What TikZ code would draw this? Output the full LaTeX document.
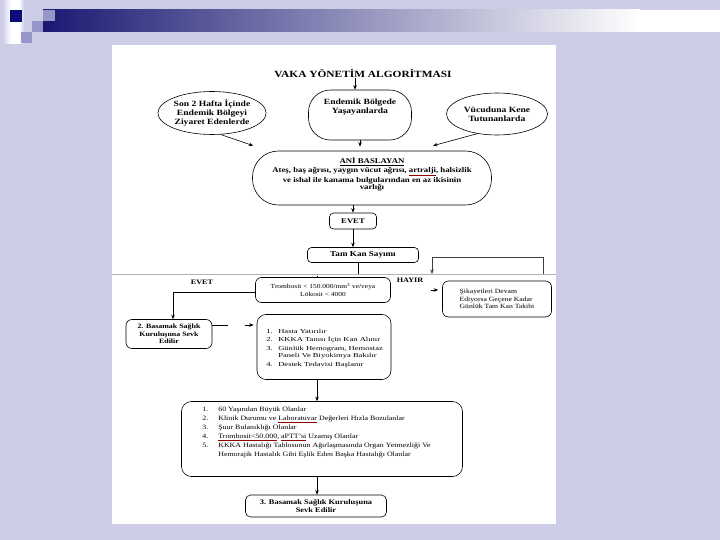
\documentclass[tikz,border=0pt]{standalone}
\usepackage{fontspec}
\setmainfont{Liberation Serif}[FakeStretch=1.2]
\newfontfamily\widefont{Liberation Serif}[FakeStretch=1.4]
\usetikzlibrary{shapes.geometric,arrows.meta,calc}
\definecolor{bgc}{RGB}{204,204,230}
\definecolor{navyc}{RGB}{25,25,115}
\definecolor{sqdark}{RGB}{10,10,120}
\definecolor{sqm}{RGB}{150,150,200}
\definecolor{seamc}{RGB}{175,178,192}
\newcommand\redul[1]{{\color{red!55!black}\underline{\color{black}#1}}}
\newcommand\fs[2]{\fontsize{#1}{#2}\selectfont}
\begin{document}
\begin{tikzpicture}[x=1pt,y=-1pt,
  line width=0.6pt,
  arr/.style={-{Stealth[length=4.5pt,width=3.5pt]}},
  oval/.style={draw, ellipse, inner sep=0pt, align=center},
  rbox/.style={draw, rounded corners=#1, inner sep=0pt, align=center},
  rbox/.default=4pt,
  lbl/.style={inner sep=0pt, align=center},
  hd/.style={font=\bfseries\fs{8}{9}},
]
\useasboundingbox (0,0) rectangle (720,540);
\fill[bgc] (0,0) rectangle (720,540);
% slide decoration
\shade[left color=bgc, right color=white] (2,0) rectangle (11,44);
\fill[white] (11,0) rectangle (19,44);
\shade[left color=white, right color=bgc] (19,0) rectangle (24,44);
\shade[left color=navyc, right color=white] (43,10) rectangle (640,32);
\fill[white] (640,10) rectangle (720,32);
\fill[sqdark] (10,10) rectangle (22,22);
\fill[sqm] (43,10) rectangle (55,21);
\fill[sqm] (32,21) rectangle (43,32);
\fill[sqm] (21,32) rectangle (32,43);
% page
\fill[white] (112,45) rectangle (556,524);
\draw[seamc, line width=1.2pt] (112,274.5) -- (556,274.5);

% upper part
\node[lbl, font=\bfseries\fs{9.5}{11}] (title) at (363,74) {VAKA YÖNETİM ALGORİTMASI};
\node[oval, hd, minimum width=107, minimum height=43] (lo) at (212,113)
  {Son 2 Hafta İçinde\\Endemik Bölgeyi\\Ziyaret Edenlerde};
\node[draw, rounded corners=22, minimum width=103, minimum height=50] (mo) at (360,115) {};
\node[lbl, hd] (mot) at (360,107) {Endemik Bölgede\\Yaşayanlarda};
\node[oval, hd, minimum width=101, minimum height=42] (ro) at (497,114)
  {Vücuduna Kene\\Tutunanlarda};
\node[draw, rounded corners=26, minimum width=239, minimum height=54] (ani) at (372,178) {};
\node[lbl, font=\bfseries\fs{7.3}{7.7}] (anit) at (372,174.5)
  {\underline{ANİ BASLAYAN}\\[1pt]
   Ateş, baş ağrısı, yaygın vücut ağrısı, \redul{artralji}, halsizlik\\
   ve ishal ile kanama bulgularından en az ikisinin\\
   varlığı};
\node[rbox, minimum width=47, minimum height=16, font=\bfseries\fs{7.2}{8}] (ev) at (353,221) {EVET};
\node[rbox, minimum width=111, minimum height=15, font=\bfseries\fs{7.6}{8}] (tk) at (363,255) {Tam Kan Sayımı};

\coordinate (xa) at (355,0);
\draw[arr] (title.south -| xa) -- (xa |- mo.north);
\draw[arr] (lo.-68) -- ($(ani.north west)+(1,-5)$);
\draw[arr] (mo.south) -- ($(mo.south |- ani.north)+(0,-4)$);
\draw[arr] (ro.-135) -- ($(ani.north)+(61,-5)$);
\draw[arr] (ani.south -| ev.north) -- (ev.north);
\draw[arr] (ev.south) -- (ev.south |- tk.north);
\coordinate (s1) at (358,274);
\draw (tk.south -| s1) -- (s1);
\coordinate (s2) at (432,274);
\coordinate (s3) at (543,274);
\draw[arr, draw=black!75] (s3) -- ++(0,-17) -| (s2);

% lower part
\node[lbl, font=\bfseries\fs{6.8}{7.6}] (evl) at (202,282) {EVET};
\node[lbl, font=\bfseries\fs{6.8}{7.6}] (hay) at (410,280) {HAYIR};
\node[rbox=6pt, font=\fs{6.2}{7.4}, minimum width=135, minimum height=25] (tr) at (323,290)
  {Trombosit < 150.000/mm\textsuperscript{3} ve/veya\\Lökosit < 4000};
\coordinate (s4) at (317,275.5);
\draw (s4) -- (s4 |- tr.north);
\node[rbox=6pt, font=\fs{6.4}{7.2}, align=left, minimum width=109, minimum height=36] (sk) at (497,299)
  {Şikayetleri Devam\\Ediyorsa Geçene Kadar\\Günlük Tam Kan Takibi};
\draw[arr] ($(sk.west)+(-11,-9)$) -- ($(sk.west)+(-4,-9)$);
\node[rbox=6pt, font=\bfseries\fs{6.6}{7.4}, minimum width=86, minimum height=29] (b2) at (169,334)
  {2. Basamak Sağlık\\Kuruluşuna Sevk\\Edilir};
\draw[arr] ($(tr.west)+(0,2)$) -| ($(b2.north)+(4,0)$);
\node[rbox=9pt, minimum width=134, minimum height=65] (ls) at (324,347) {};
\node[lbl, align=left, anchor=north west, font=\widefont\fs{6.1}{7.4}] (lst) at (266,329)
  {\makebox[12pt][l]{1.}Hasta Yatırılır\\[1pt]
   \makebox[12pt][l]{2.}KKKA Tanısı İçin Kan Alınır\\[1pt]
   \makebox[12pt][l]{3.}Günlük Hemogram, Hemostaz\\
   \hspace*{12pt}Paneli Ve Biyokimya Bakılır\\[1pt]
   \makebox[12pt][l]{4.}Destek Tedavisi Başlanır};
\draw ($(b2.east)+(0,-9)$) -- ++(16,0);
\draw[arr] ($(ls.west)+(-12,-22)$) -- ($(ls.west)+(-3,-22)$);
\node[rbox=10pt, minimum width=281, minimum height=75] (bg) at (322,439) {};
\node[lbl, align=left, anchor=north west, font=\fs{6.6}{9}] (bgt) at (202,407)
  {\makebox[16pt][l]{1.}60 Yaşından Büyük Olanlar\\
   \makebox[16pt][l]{2.}Klinik Durumu ve \redul{Laboratuvar} Değerleri Hızla Bozulanlar\\
   \makebox[16pt][l]{3.}Şuur Bulanıklığı Olanlar\\
   \makebox[16pt][l]{4.}\redul{Trombosit<50.000}, \redul{aPTT'si} Uzamış Olanlar\\
   \makebox[16pt][l]{5.}KKKA Hastalığı Tablosunun Ağırlaşmasında Organ Yetmezliği Ve\\
   \hspace*{16pt}Hemorajik Hastalık Gibi Eşlik Eden Başka Hastalığı Olanlar};
\coordinate (xb) at (317,0);
\draw[arr] (ls.south -| xb) -- (xb |- bg.north);
\node[rbox=5pt, font=\bfseries\fs{7}{7.8}, minimum width=141, minimum height=22] (fn) at (316,506)
  {3. Basamak Sağlık Kuruluşuna\\Sevk Edilir};
\draw[arr] (bg.south -| xb) -- (xb |- fn.north);
\end{tikzpicture}
\end{document}
